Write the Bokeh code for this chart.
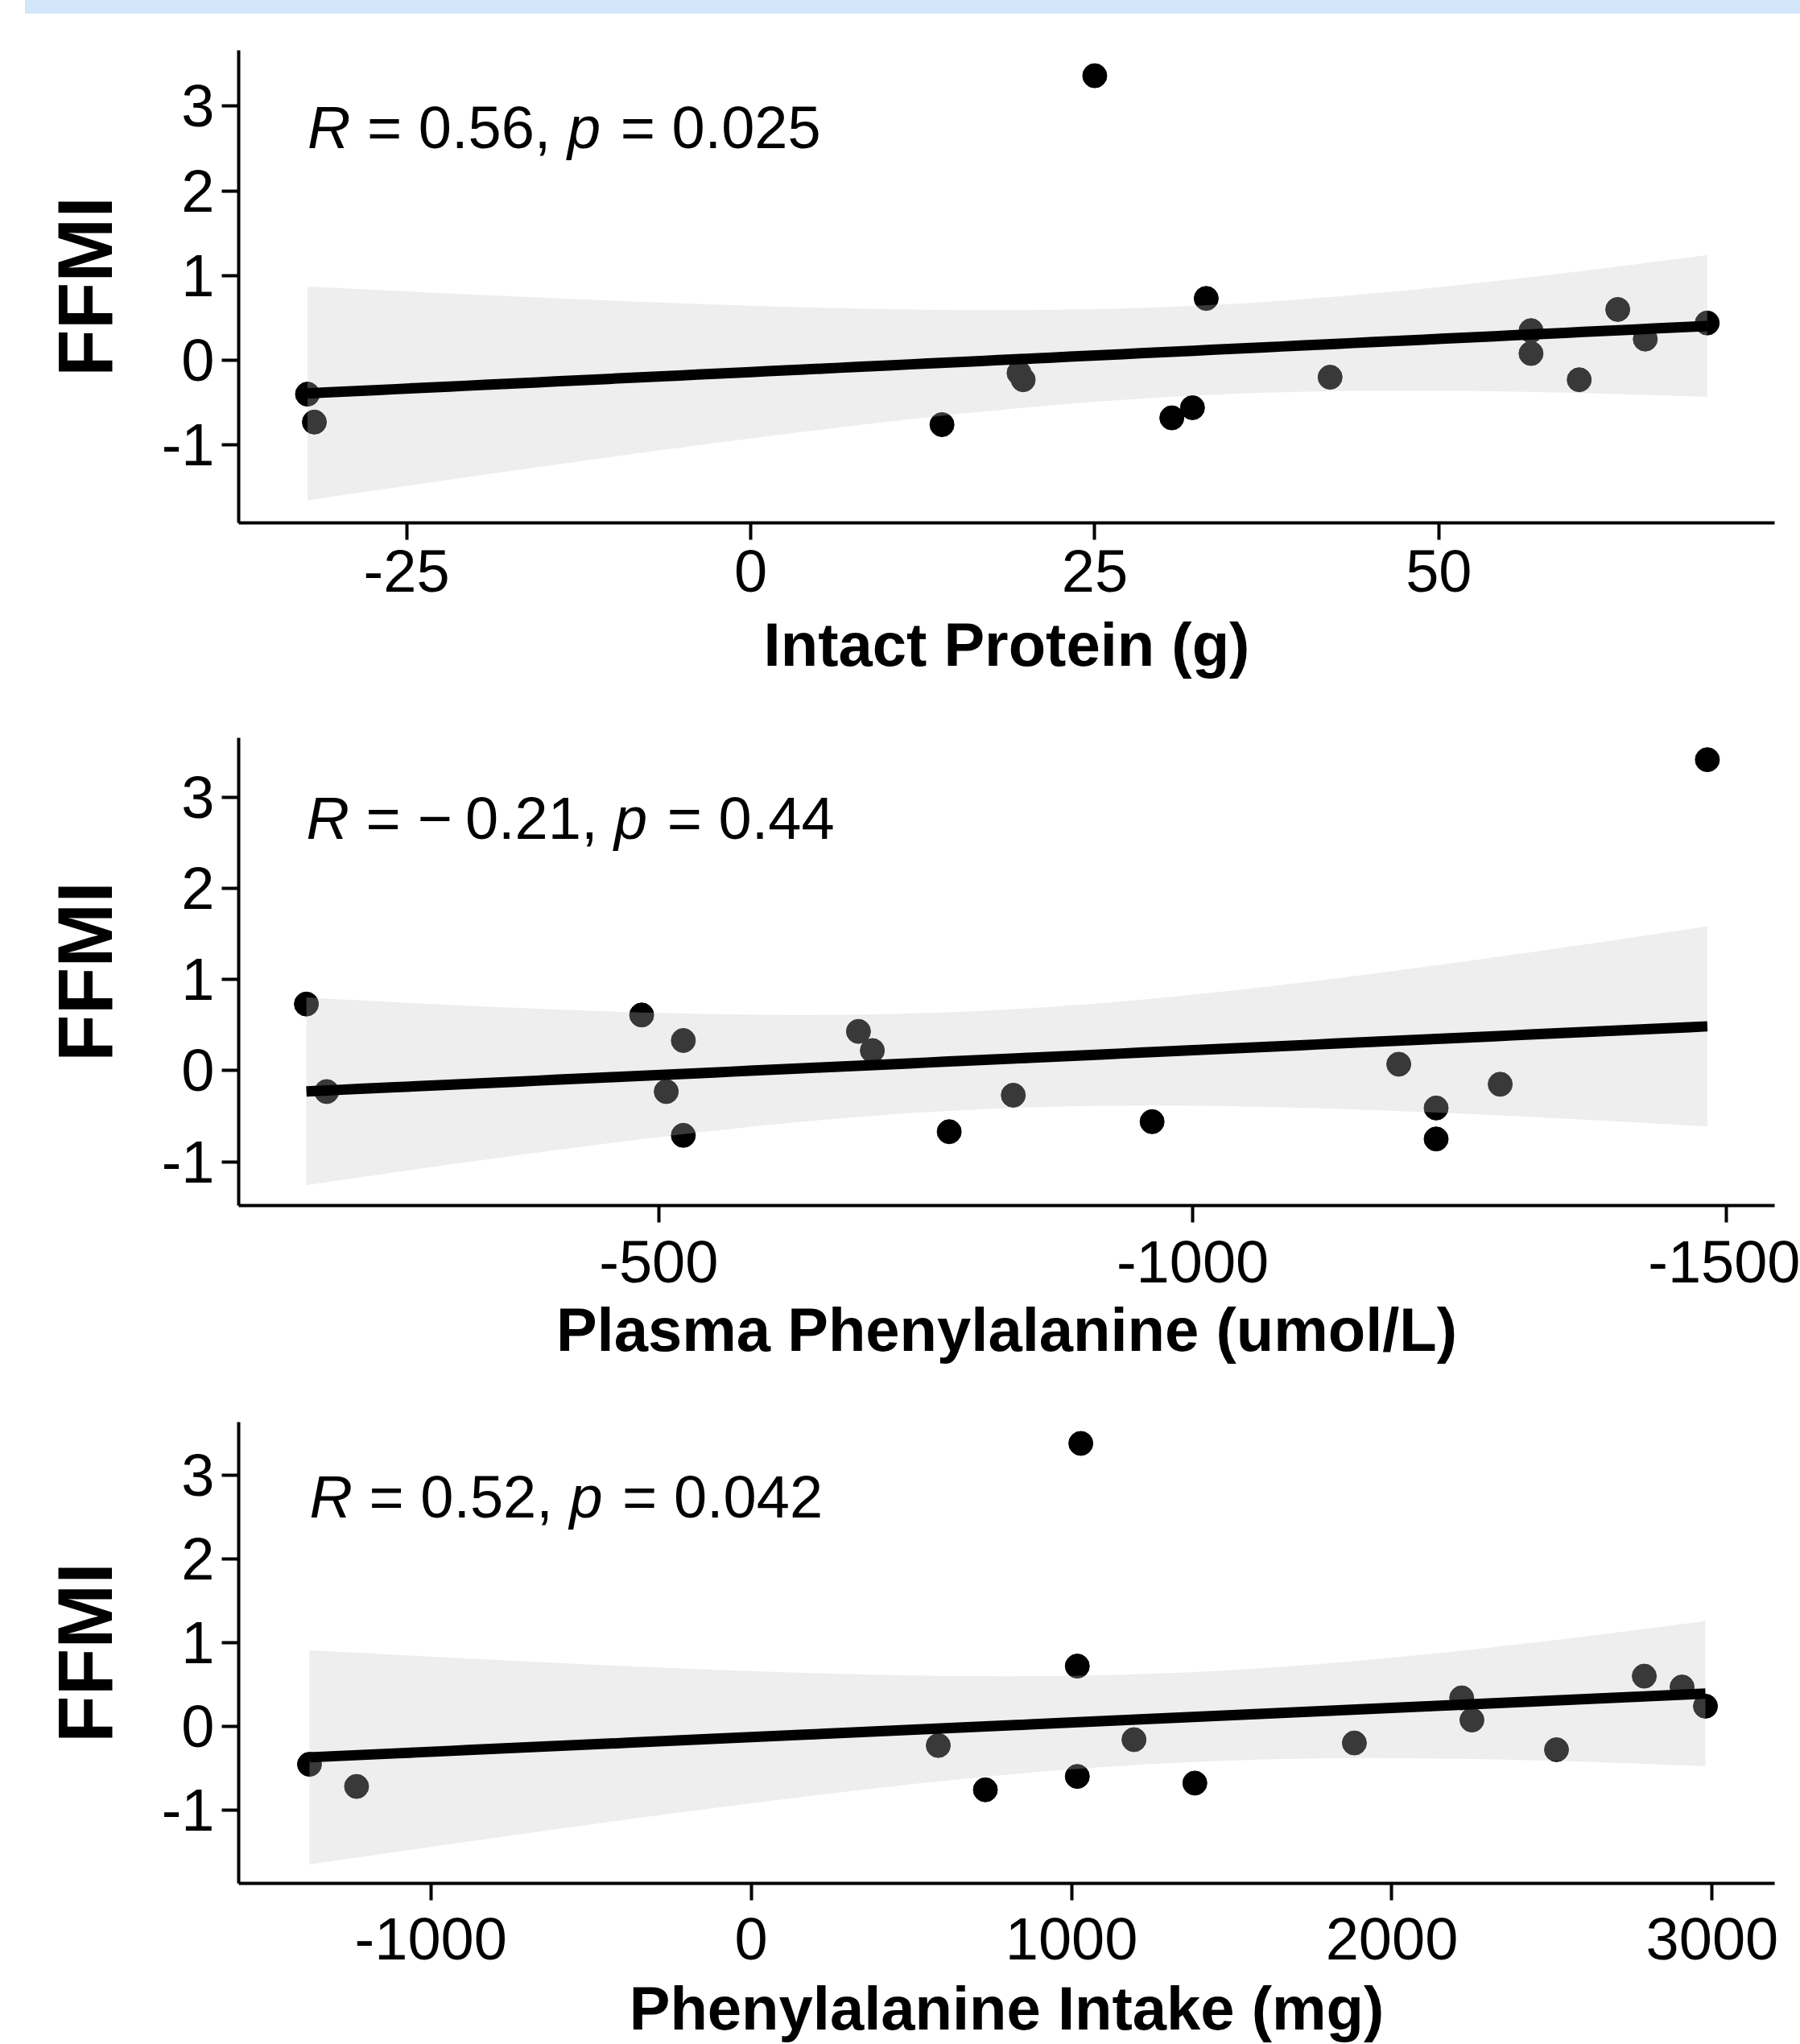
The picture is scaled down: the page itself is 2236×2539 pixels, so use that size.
import numpy as np
from bokeh.plotting import figure
from bokeh.models import Range1d, FixedTicker, Label, Div
from bokeh.layouts import column
from bokeh.embed import file_html
from bokeh.resources import INLINE

# ---------------- data ----------------
ffmi_ticks = [-1, 0, 1, 2, 3]
y_title = "FFMI"

protein_x = [-32.2, -31.7, 13.9, 19.5, 19.8, 25.0, 30.6, 32.1, 33.1, 42.1, 56.7, 56.7, 60.2, 63.0, 65.0, 69.5]
protein_y = [-0.40, -0.73, -0.76, -0.15, -0.23, 3.36, -0.68, -0.56, 0.73, -0.20, 0.35, 0.08, -0.23, 0.60, 0.25, 0.44]
protein_ticks = [-25, 0, 25, 50]
protein_title = "Intact Protein (g)"
protein_stats = ("", "0.56", "0.025")

plasma_x = [-170, -189, -484, -507, -523, -523, -687, -700, -772, -832, -962, -1193, -1228, -1228, -1288, -1482]
plasma_y = [0.73, -0.23, 0.61, -0.23, 0.33, -0.71, 0.43, 0.22, -0.67, -0.27, -0.56, 0.07, -0.41, -0.75, -0.15, 3.41]
plasma_ticks = [-500, -1000, -1500]
plasma_title = "Plasma Phenylalanine (umol/L)"
plasma_stats = ("\u2212", "0.21", "0.44")

intake_x = [-1379, -1232, 584, 731, 1018, 1018, 1029, 1195, 1385, 1883, 2218, 2250, 2514, 2788, 2906, 2979]
intake_y = [-0.455, -0.72, -0.23, -0.76, -0.60, 0.72, 3.385, -0.16, -0.68, -0.20, 0.34, 0.075, -0.28, 0.60, 0.47, 0.24]
intake_ticks = [-1000, 0, 1000, 2000, 3000]
intake_title = "Phenylalanine Intake (mg)"
intake_stats = ("", "0.52", "0.042")

T_975_DF14 = 2.1448  # t quantile for 95% CI, n-2 = 14

FONT = "Liberation Sans"
TICK_PX = 74
ANN_PX = 74
XT_PX = 76
YT_PX = 96

EM = {"R": 0.722, "p": 0.556, " ": 0.278, "=": 0.584, ".": 0.278, ",": 0.278,
      "\u2212": 0.584, "-": 0.333}
for d in "0123456789":
    EM[d] = 0.556


def text_w(s, px):
    return sum(EM.get(c, 0.556) for c in s) * px


def lm_band(xs, ys):
    x = np.asarray(xs, float)
    y = np.asarray(ys, float)
    n = len(x)
    xm, ym = x.mean(), y.mean()
    sxx = ((x - xm) ** 2).sum()
    b = ((x - xm) * (y - ym)).sum() / sxx
    a = ym - b * xm
    s2 = ((y - (a + b * x)) ** 2).sum() / (n - 2)
    g = np.linspace(x.min(), x.max(), 80)
    yh = a + b * g
    se = np.sqrt(s2 * (1.0 / n + (g - xm) ** 2 / sxx))
    return g, yh, yh - T_975_DF14 * se, yh + T_975_DF14 * se


def panel(xs, ys, xr, yr, ticks, title, stats, reverse, top, frame_h, bottom,
          tick_sd, title_sd):
    p = figure(width=2236, height=top + frame_h + bottom,
               x_range=Range1d(*xr), y_range=Range1d(*yr),
               output_backend="svg", toolbar_location=None,
               min_border_left=296, min_border_right=32,
               min_border_top=top, min_border_bottom=bottom)
    p.outline_line_color = None
    p.grid.grid_line_color = None
    p.background_fill_color = "white"
    p.border_fill_color = "white"

    p.scatter(xs, ys, size=30, color="black")
    g, yh, lo, hi = lm_band(xs, ys)
    p.varea(x=g, y1=lo, y2=hi, fill_color="#c4c4c4", fill_alpha=0.29)
    p.line(g, yh, line_width=13, line_color="black")

    for ax in (p.xaxis, p.yaxis):
        ax.axis_line_width = 4
        ax.axis_line_color = "black"
        ax.major_tick_line_width = 4
        ax.major_tick_line_color = "black"
        ax.major_tick_out = 21
        ax.major_tick_in = 0
        ax.minor_tick_line_color = None
        ax.major_label_text_font = FONT
        ax.major_label_text_font_size = f"{TICK_PX}px"
        ax.major_label_text_color = "black"
        ax.axis_label_text_font = FONT
        ax.axis_label_text_font_style = "bold"
        ax.axis_label_text_color = "black"

    p.xaxis.ticker = FixedTicker(ticks=ticks)
    p.xaxis.major_label_overrides = {t: str(t) for t in ticks}
    p.xaxis.axis_label = title
    p.xaxis.axis_label_text_font_size = f"{XT_PX}px"
    p.xaxis.major_label_standoff = tick_sd
    p.xaxis.axis_label_standoff = title_sd

    p.yaxis.ticker = FixedTicker(ticks=ffmi_ticks)
    p.yaxis.major_label_overrides = {t: str(t) for t in ffmi_ticks}
    p.yaxis.axis_label = y_title
    p.yaxis.axis_label_text_font_size = f"{YT_PX}px"
    p.yaxis.major_label_standoff = 9
    p.yaxis.axis_label_standoff = 39

    # correlation annotation: italic R and p, laid out token by token
    left_x = max(xs) if reverse else min(xs)
    ppu = frame_h / (yr[1] - yr[0])
    base_y = 3 - (0.70 * ANN_PX - 25) / ppu
    sign, r_val, p_val = stats
    sp = EM[" "] * ANN_PX
    toks = []
    off = 0.0
    toks.append(("R", True, off)); off += text_w("R", ANN_PX) + sp
    toks.append(("=", False, off)); off += text_w("=", ANN_PX) + sp
    if sign:
        toks.append((sign, False, off)); off += text_w(sign, ANN_PX) + 0.22 * ANN_PX
    toks.append((r_val + ",", False, off)); off += text_w(r_val + ",", ANN_PX) + sp
    toks.append(("p", True, off)); off += text_w("p", ANN_PX) + sp + 4
    toks.append(("=", False, off)); off += text_w("=", ANN_PX) + sp
    toks.append((p_val, False, off))
    for s, it, o in toks:
        p.add_layout(Label(x=left_x, y=base_y, x_offset=o, text=s,
                           text_font=FONT, text_font_size=f"{ANN_PX}px",
                           text_font_style="italic" if it else "normal",
                           text_color="black", text_align="left",
                           text_baseline="alphabetic"))
    return p


band = Div(text="", width=2205, height=17, margin=(0, 0, 0, 31),
           styles={"background-color": "#d3e7fb"})

f1 = panel(protein_x, protein_y, (-37.2, 74.4), (-1.92, 3.66), protein_ticks,
           protein_title, protein_stats, False, 45, 587, 226, 13, 20)
f2 = panel(plasma_x, plasma_y, (-106.6, -1545.0), (-1.48, 3.65), plasma_ticks,
           plasma_title, plasma_stats, True, 41, 581, 232, 23, 13)
f3 = panel(intake_x, intake_y, (-1600, 3195), (-1.88, 3.64), intake_ticks,
           intake_title, intake_stats, False, 37, 582, 191, 22, 15)

layout = column(band, f1, f2, f3, spacing=0)
open("out.html", "w").write(file_html(layout, INLINE))
